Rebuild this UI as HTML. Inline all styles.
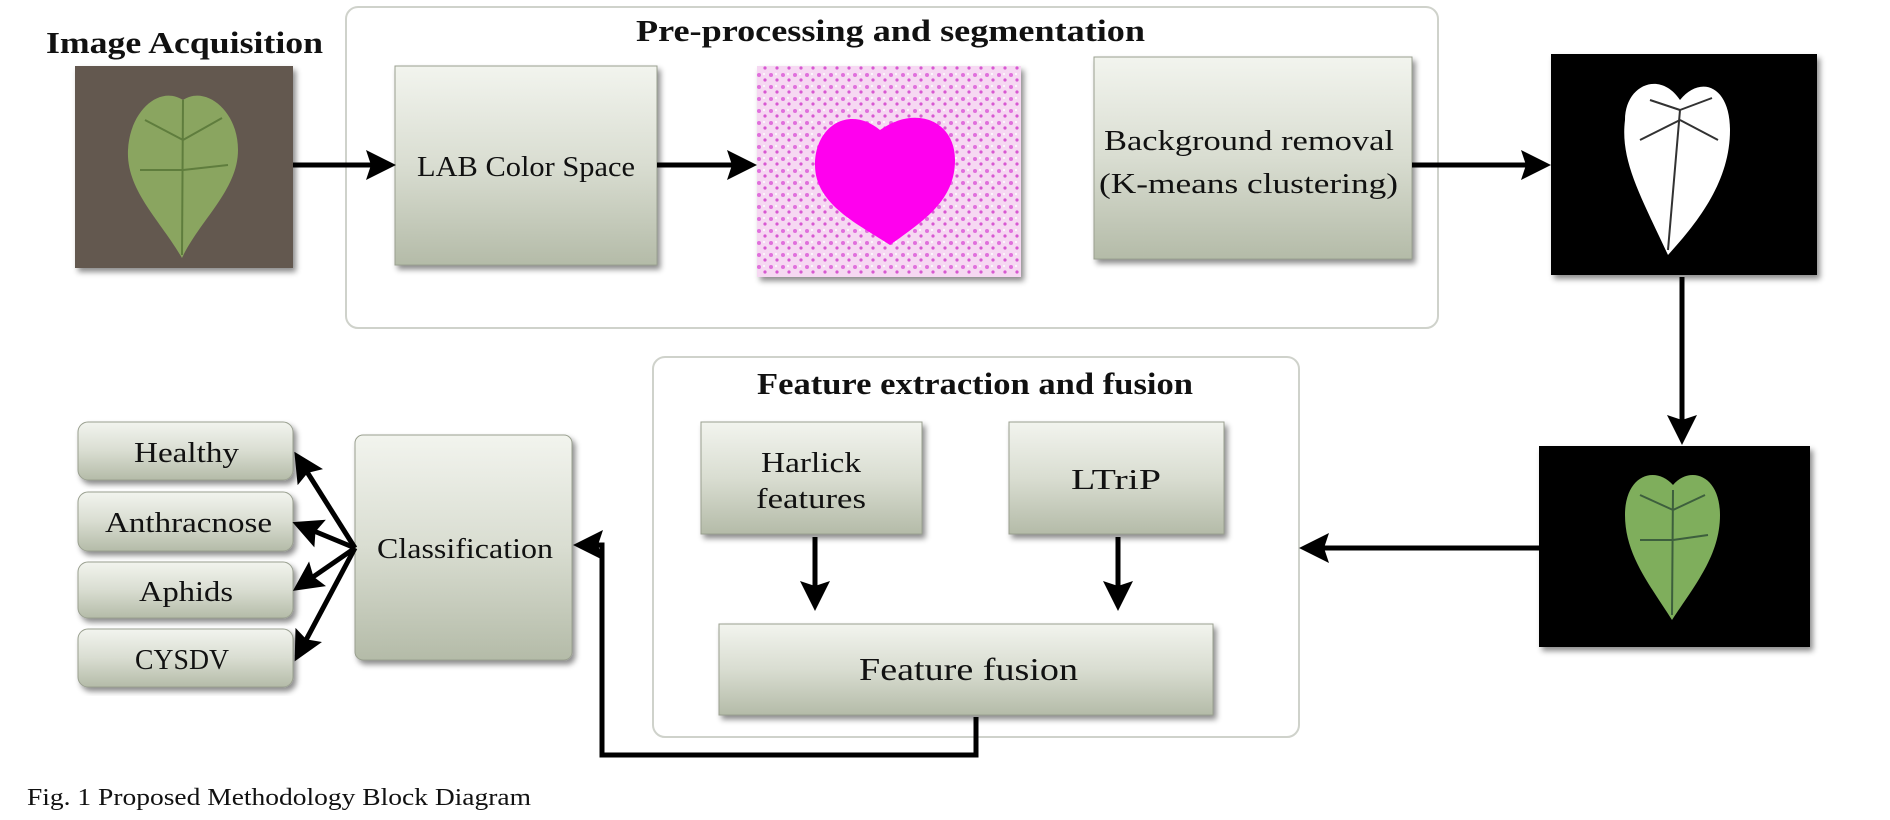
<!DOCTYPE html>
<html><head><meta charset="utf-8"><style>
html,body{margin:0;padding:0;background:#fff;}
svg{display:block}
text{font-family:"Liberation Serif",serif;fill:#111}
</style></head><body>
<svg width="1890" height="820" viewBox="0 0 1890 820" xmlns="http://www.w3.org/2000/svg">
<defs>
<linearGradient id="g" x1="0" y1="0" x2="0" y2="1">
<stop offset="0" stop-color="#f2f4ee"/><stop offset="0.5" stop-color="#d9ddd1"/><stop offset="1" stop-color="#b4bba8"/>
</linearGradient>
<filter id="sh" x="-10%" y="-10%" width="125%" height="125%"><feDropShadow dx="3" dy="4" stdDeviation="3" flood-color="#000" flood-opacity="0.45"/></filter>
<marker id="ar" markerWidth="6" markerHeight="6" refX="5" refY="3" orient="auto" markerUnits="strokeWidth"><path d="M0,0 L6,3 L0,6 L1,3 Z" fill="#000"/></marker>
<pattern id="noise" width="12" height="12" patternUnits="userSpaceOnUse"><rect width="12" height="12" fill="#f6d8f2"/><circle cx="3" cy="3" r="2" fill="#e070dc"/><circle cx="9" cy="8" r="1.6" fill="#d858d2"/><circle cx="8" cy="2" r="1" fill="#fff"/></pattern>
</defs>

<rect x="346" y="7" width="1092" height="321" rx="12" fill="#fff" stroke="#cfd2cb" stroke-width="2"/>
<rect x="653" y="357" width="646" height="380" rx="12" fill="#fff" stroke="#cfd2cb" stroke-width="2"/>

<g font-weight="bold" font-size="31">
<text x="46" y="53" textLength="277" lengthAdjust="spacingAndGlyphs">Image Acquisition</text>
<text x="636" y="41" textLength="509" lengthAdjust="spacingAndGlyphs">Pre-processing and segmentation</text>
<text x="757" y="394" textLength="436" lengthAdjust="spacingAndGlyphs">Feature extraction and fusion</text>
</g>

<g filter="url(#sh)">
<rect x="75" y="66" width="218" height="202" fill="#5a4f45"/>
<rect x="75" y="66" width="218" height="202" fill="#6b6157" opacity="0.6"/>
<path d="M183,100 C160,85 130,110 128,150 C126,190 160,220 182,258 C200,220 238,190 238,150 C238,110 205,85 183,100 Z" fill="#8aa560"/>
<path d="M183,100 L182,255 M183,140 L145,120 M183,140 L222,118 M183,170 L140,170 M183,170 L228,165" stroke="#5f7d3e" stroke-width="2" fill="none"/>
</g>

<rect x="395" y="66" width="262" height="199" fill="url(#g)" stroke="#9aa090" filter="url(#sh)"/>
<text x="417" y="176" font-size="29" textLength="218" lengthAdjust="spacingAndGlyphs">LAB Color Space</text>

<g filter="url(#sh)">
<rect x="757" y="66" width="264" height="211" fill="url(#noise)"/>
<path d="M880,130 C850,105 815,125 815,165 C815,205 860,225 890,245 C925,220 955,200 955,160 C955,120 915,105 880,130 Z" fill="#ff00ee"/>
</g>

<rect x="1094" y="57" width="318" height="202" fill="url(#g)" stroke="#9aa090" filter="url(#sh)"/>
<text x="1104" y="150" font-size="29" textLength="290" lengthAdjust="spacingAndGlyphs">Background removal</text>
<text x="1099" y="193" font-size="29" textLength="299" lengthAdjust="spacingAndGlyphs">(K-means clustering)</text>

<g filter="url(#sh)">
<rect x="1551" y="54" width="266" height="221" fill="#000"/>
<path d="M1680,100 C1660,70 1625,85 1625,120 C1620,160 1640,195 1668,255 C1700,220 1730,180 1730,130 C1730,85 1700,75 1680,100 Z" fill="#fff"/>
<path d="M1680,110 L1668,250 M1680,110 L1650,100 M1680,110 L1712,98 M1680,120 L1640,140 M1680,120 L1718,140" stroke="#333" stroke-width="2"/>
</g>

<g filter="url(#sh)">
<rect x="1539" y="446" width="271" height="201" fill="#050505"/>
<path d="M1673,485 C1655,465 1625,475 1625,515 C1625,555 1650,585 1672,620 C1695,585 1720,555 1720,515 C1720,475 1690,465 1673,485 Z" fill="#7fae5c"/>
<path d="M1673,490 L1672,615 M1673,510 L1640,495 M1673,510 L1705,495 M1673,540 L1640,540 M1673,540 L1708,535" stroke="#3d5f3d" stroke-width="2"/>
</g>

<rect x="701" y="422" width="221" height="112" fill="url(#g)" stroke="#9aa090" filter="url(#sh)"/>
<text x="761" y="472" font-size="29" textLength="100" lengthAdjust="spacingAndGlyphs">Harlick</text>
<text x="756" y="508" font-size="29" textLength="110" lengthAdjust="spacingAndGlyphs">features</text>
<rect x="1009" y="422" width="215" height="112" fill="url(#g)" stroke="#9aa090" filter="url(#sh)"/>
<text x="1071" y="489" font-size="29" textLength="90" lengthAdjust="spacingAndGlyphs">LTriP</text>
<rect x="719" y="624" width="494" height="91" fill="url(#g)" stroke="#9aa090" filter="url(#sh)"/>
<text x="859" y="680" font-size="32" textLength="219" lengthAdjust="spacingAndGlyphs">Feature fusion</text>

<rect x="355" y="435" width="217" height="225" rx="8" fill="url(#g)" stroke="#9aa090" filter="url(#sh)"/>
<text x="377" y="558" font-size="29" textLength="176" lengthAdjust="spacingAndGlyphs">Classification</text>

<g font-size="29">
<rect x="78" y="422" width="215" height="58" rx="10" fill="url(#g)" stroke="#9aa090" filter="url(#sh)"/>
<text x="134" y="462" textLength="105" lengthAdjust="spacingAndGlyphs">Healthy</text>
<rect x="78" y="492" width="215" height="59" rx="10" fill="url(#g)" stroke="#9aa090" filter="url(#sh)"/>
<text x="105" y="532" textLength="167" lengthAdjust="spacingAndGlyphs">Anthracnose</text>
<rect x="78" y="562" width="215" height="56" rx="10" fill="url(#g)" stroke="#9aa090" filter="url(#sh)"/>
<text x="139" y="601" textLength="94" lengthAdjust="spacingAndGlyphs">Aphids</text>
<rect x="78" y="629" width="215" height="58" rx="10" fill="url(#g)" stroke="#9aa090" filter="url(#sh)"/>
<text x="135" y="669" textLength="94" lengthAdjust="spacingAndGlyphs">CYSDV</text>
</g>

<g stroke="#000" stroke-width="5" fill="none" marker-end="url(#ar)">
<line x1="293" y1="165" x2="391" y2="165"/>
<line x1="657" y1="165" x2="752" y2="165"/>
<line x1="1412" y1="165" x2="1546" y2="165"/>
<line x1="1682" y1="277" x2="1682" y2="440"/>
<line x1="1539" y1="548" x2="1304" y2="548"/>
<line x1="815" y1="537" x2="815" y2="606"/>
<line x1="1118" y1="537" x2="1118" y2="606"/>
<polyline points="976,717 976,755 602,755 602,545 578,545"/>
<line x1="355" y1="548" x2="297" y2="456"/>
<line x1="355" y1="548" x2="297" y2="524"/>
<line x1="355" y1="548" x2="297" y2="588"/>
<line x1="355" y1="548" x2="297" y2="657"/>
</g>

<text x="27" y="805" font-size="24" textLength="504" lengthAdjust="spacingAndGlyphs">Fig. 1 Proposed Methodology Block Diagram</text>
</svg>
</body></html>
